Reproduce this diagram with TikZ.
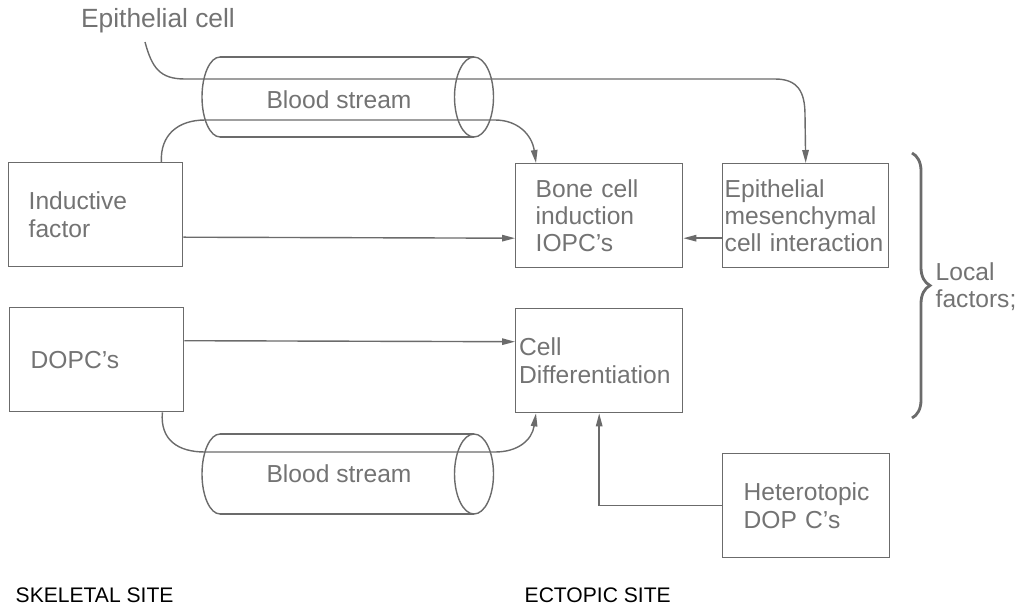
\documentclass[tikz,border=0pt]{standalone}
\usepackage{fontspec}
\setmainfont{Liberation Sans}
\usetikzlibrary{arrows.meta,decorations.pathreplacing}
\definecolor{linec}{gray}{0.42}
\definecolor{textc}{gray}{0.45}
\begin{document}
\begin{tikzpicture}[x=0.02cm,y=-0.02cm,line width=0.8pt,color=linec,
  box/.style={draw=linec,minimum height=2.08cm,align=left,text=textc,
    font=\fontsize{14}{15.5}\selectfont,anchor=north west,inner ysep=0pt},
  lbl/.style={text=textc,font=\fontsize{14}{15.5}\selectfont,align=left},
  site/.style={text=black,font=\fontsize{12}{14}\selectfont,anchor=west,inner sep=0pt},
  arr/.style={-{Triangle[length=0.26cm,width=0.13cm]}}]
\useasboundingbox (0,0) rectangle (1034,609);
% boxes
\node[box,text width=2.68cm,inner xsep=0.4cm] (ind) at (8,162) {Inductive\\factor};
\node[box,text width=2.54cm,inner xsep=0.4cm] (bone) at (515,163) {Bone cell\\induction\\IOPC's};
\node[box,text width=3.24cm,inner xsep=0.04cm] (epi) at (722,163) {Epithelial\\mesenchymal\\\mbox{cell interaction}};
\node[box,text width=2.64cm,inner xsep=0.42cm] (dopc) at (9,307) {DOPC's};
\node[box,text width=3.2cm,inner xsep=0.07cm] (cell) at (515,308) {Cell\\Differentiation};
\node[box,text width=2.5cm,inner xsep=0.42cm] (het) at (722,453) {Heterotopic\\DOP C's};
% blood stream tubes
\draw (220,57) -- (474,57) (220,137) -- (474,137);
\draw (220,57) arc[start angle=90,end angle=270,x radius=0.36cm,y radius=0.8cm];
\draw (474,97) ellipse[x radius=0.39cm,y radius=0.8cm];
\node[lbl] (bsup) at (339,100) {Blood stream};
\draw (220,434) -- (474,434) (220,514) -- (474,514);
\draw (220,434) arc[start angle=90,end angle=270,x radius=0.36cm,y radius=0.8cm];
\draw (474,474) ellipse[x radius=0.39cm,y radius=0.8cm];
\node[lbl] (bslow) at (339,474) {Blood stream};
% labels
\node[lbl,font=\fontsize{15}{16}\selectfont] (epilbl) at (158,21) {Epithelial cell};
\coordinate (epistart) at (145,42);
\draw[decorate,decoration={brace,amplitude=0.36cm},line width=1.6pt] (912,153) -- (912,418);
\node[lbl,anchor=west,inner sep=0pt] (local) at (935,287) {Local\\factors;};
\node[site] (skel) at (15,595) {SKELETAL SITE};
\node[site] (ecto) at (524,595) {ECTOPIC SITE};
% connectors
\draw[arr] (epistart) .. controls (152,68) and (160,79) .. (185,79) -- (775,79)
  .. controls (798,79) and (805,92) .. (805,115) -- (epi.north);
\draw[arr] ([xshift=-0.44cm]ind.north east) .. controls (160,135) and (178,120) .. (205,120)
  -- (495,120) .. controls (518,120) and (532,135) .. ([xshift=0.42cm]bone.north west);
\draw[arr] ([yshift=-0.45cm]ind.east) -- ([yshift=-0.45cm]bone.west);
\draw[arr] ([yshift=-0.45cm]epi.west) -- ([yshift=-0.45cm]bone.east);
\draw[arr] ([yshift=0.38cm]dopc.east) -- ([yshift=0.38cm]cell.west);
\draw[arr] ([xshift=-0.44cm]dopc.south east) .. controls (160,440) and (178,452) .. (205,452)
  -- (495,452) .. controls (518,452) and (532,440) .. ([xshift=0.42cm]cell.south west);
\draw[arr] (het.west) -| (cell.south);
\end{tikzpicture}
\end{document}
